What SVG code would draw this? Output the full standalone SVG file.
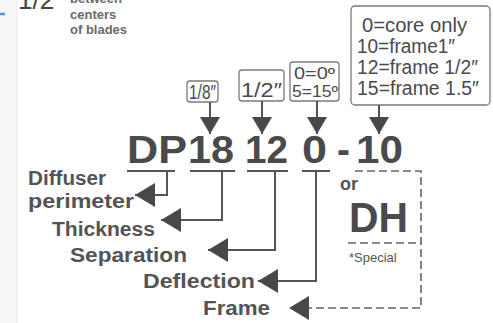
<svg xmlns="http://www.w3.org/2000/svg" width="493" height="323" viewBox="0 0 493 323">
<style>
.code{font-family:"Liberation Sans",Arial,sans-serif;font-weight:bold;font-size:39px;fill:#4a4a4c}
.lbl{font-family:"Liberation Sans",Arial,sans-serif;font-weight:bold;font-size:20px;fill:#545456}
.box{fill:#fff;stroke:#7a7a7a;stroke-width:1.3}
.bt{font-family:"Liberation Sans",Arial,sans-serif;font-size:20px;fill:#4a4a4c}
.ln{fill:none;stroke:#555;stroke-width:2}
.dl{fill:none;stroke:#666;stroke-width:1.6;stroke-dasharray:8 4}
.small{font-family:"Liberation Sans",Arial,sans-serif;font-weight:bold;font-size:13px;fill:#6a6a6a}
</style>
<defs>
<marker id="al" markerUnits="userSpaceOnUse" markerWidth="22" markerHeight="26" refX="20" refY="12" orient="auto"><path d="M0,0 L20,12 L0,24 z" fill="#48484a"/></marker>
<marker id="ad" markerUnits="userSpaceOnUse" markerWidth="20" markerHeight="22" refX="17" refY="10" orient="auto"><path d="M0,0 L17,10 L0,20 z" fill="#48484a"/></marker>
</defs>
<rect x="0" y="0" width="493" height="323" fill="#fff"/>
<rect x="0" y="0" width="17" height="323" fill="#f6f6f8"/>
<line x1="17" y1="0" x2="17" y2="323" stroke="#ececef" stroke-width="1"/>
<line x1="0" y1="14" x2="5" y2="14" stroke="#4a9ad4" stroke-width="2.5"/>
<g id="top-note">
<text x="18" y="9" style="font-family:'Liberation Sans',Arial,sans-serif;font-size:26px;fill:#444">1/2</text>
<text x="70" y="3" class="small">between</text>
<text x="70" y="19" class="small">centers</text>
<text x="70" y="34" class="small">of blades</text>
</g>
<g id="box-thickness"><rect class="box" x="187" y="81" width="31" height="21" rx="3"/><text class="bt" x="189" y="99" style="font-size:20px" textLength="27" lengthAdjust="spacingAndGlyphs">1/8″</text></g>
<g id="box-separation"><rect class="box" x="239" y="70" width="45" height="31" rx="3"/><text class="bt" x="241" y="97" style="font-size:21px" textLength="41" lengthAdjust="spacingAndGlyphs">1/2″</text></g>
<g id="box-deflection"><rect class="box" x="290" y="62" width="49" height="39" rx="3"/><text class="bt" x="294" y="79" style="font-size:16px" textLength="41" lengthAdjust="spacingAndGlyphs">0=0º</text><text class="bt" x="292" y="97" style="font-size:16px" textLength="46" lengthAdjust="spacingAndGlyphs">5=15º</text></g>
<g id="box-frame"><rect class="box" x="351" y="6" width="139" height="99" rx="4"/>
<text class="bt" x="362" y="32" textLength="105" lengthAdjust="spacingAndGlyphs">0=core only</text>
<text class="bt" x="357" y="53" textLength="98" lengthAdjust="spacingAndGlyphs">10=frame1″</text>
<text class="bt" x="357" y="74" textLength="121" lengthAdjust="spacingAndGlyphs">12=frame 1/2″</text>
<text class="bt" x="357" y="95" textLength="122" lengthAdjust="spacingAndGlyphs">15=frame 1.5″</text></g>
<g id="code">
<text class="code" x="127" y="163" textLength="60" lengthAdjust="spacingAndGlyphs">DP</text>
<text class="code" x="188" y="163" textLength="46" lengthAdjust="spacingAndGlyphs">18</text>
<text class="code" x="245" y="163" textLength="43" lengthAdjust="spacingAndGlyphs">12</text>
<text class="code" x="302" y="163" textLength="25" lengthAdjust="spacingAndGlyphs">0</text>
<text class="code" x="337" y="163" textLength="13" lengthAdjust="spacingAndGlyphs">-</text>
<text class="code" x="356" y="163" textLength="47" lengthAdjust="spacingAndGlyphs">10</text>
</g>
<g id="alt-dh">
<text class="lbl" x="340" y="190" style="font-size:18px">or</text>
<text class="code" x="349" y="232" style="font-size:43px" textLength="59" lengthAdjust="spacingAndGlyphs">DH</text>
<text x="349" y="262" style="font-family:'Liberation Sans',Arial,sans-serif;font-size:13px;fill:#555">*Special</text>
</g>
<g id="labels">
<text class="lbl" x="28" y="185" textLength="78" lengthAdjust="spacingAndGlyphs">Diffuser</text>
<text class="lbl" x="28" y="208" textLength="106" lengthAdjust="spacingAndGlyphs">perimeter</text>
<text class="lbl" x="52" y="236" textLength="103" lengthAdjust="spacingAndGlyphs">Thickness</text>
<text class="lbl" x="70" y="262" textLength="117" lengthAdjust="spacingAndGlyphs">Separation</text>
<text class="lbl" x="143" y="288" textLength="112" lengthAdjust="spacingAndGlyphs">Deflection</text>
<text class="lbl" x="203" y="315" textLength="67" lengthAdjust="spacingAndGlyphs">Frame</text>
</g>
<g id="connectors">
<line class="ln" x1="210" y1="102" x2="210" y2="134" marker-end="url(#ad)"/>
<line class="ln" x1="262" y1="101" x2="262" y2="134" marker-end="url(#ad)"/>
<line class="ln" x1="317" y1="101" x2="317" y2="134" marker-end="url(#ad)"/>
<line class="ln" x1="379" y1="105" x2="379" y2="134" marker-end="url(#ad)"/>
<line class="ln" x1="127" y1="171" x2="175" y2="171"/>
<line class="ln" x1="190" y1="171" x2="235" y2="171"/>
<line class="ln" x1="247" y1="171" x2="288" y2="171"/>
<line class="ln" x1="302" y1="171" x2="330" y2="171"/>
<polyline class="ln" points="167,171 167,195 135,195" marker-end="url(#al)"/>
<polyline class="ln" points="222,171 222,220 161,220" marker-end="url(#al)"/>
<polyline class="ln" points="275,171 275,250 208,250" marker-end="url(#al)"/>
<polyline class="ln" points="316,171 316,281 258,281" marker-end="url(#al)"/>
<polyline class="dl" points="355,171 421,171 421,308 289,308" marker-end="url(#al)"/>
<line class="dl" x1="348" y1="243" x2="421" y2="243"/>
</g>
</svg>
